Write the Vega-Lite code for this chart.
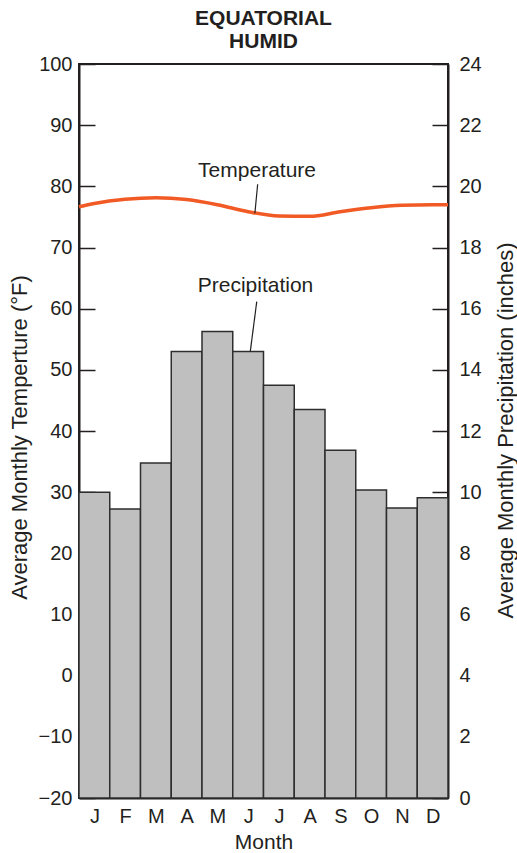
{
  "$schema": "https://vega.github.io/schema/vega-lite/v6.json",
  "width": 369,
  "height": 734,
  "autosize": {"type": "none"},
  "padding": {"left": 79, "top": 64, "right": 69, "bottom": 55},
  "background": "white",
  "title": {
    "text": ["EQUATORIAL", "HUMID"],
    "fontSize": 21,
    "fontWeight": "bold",
    "font": "Liberation Sans",
    "color": "#231f20",
    "anchor": "middle",
    "lineHeight": 23,
    "offset": 2
  },
  "config": {
    "font": "Liberation Sans",
    "view": {"stroke": "#231f20", "strokeWidth": 2},
    "axis": {
      "grid": false,
      "labelFont": "Liberation Sans",
      "labelFontSize": 20,
      "labelColor": "#231f20",
      "titleFont": "Liberation Sans",
      "titleFontSize": 22,
      "titleFontWeight": "normal",
      "titleColor": "#231f20",
      "domainColor": "#231f20",
      "domainWidth": 2,
      "tickColor": "#231f20",
      "tickWidth": 1.5,
      "zindex": 1
    }
  },
  "encoding": {
    "x": {
      "field": "pos",
      "type": "quantitative",
      "scale": {"domain": [0, 12], "nice": false, "zero": false},
      "axis": {
        "title": "Month",
        "titleFontSize": 21,
        "values": [0.5, 1.5, 2.5, 3.5, 4.5, 5.5, 6.5, 7.5, 8.5, 9.5, 10.5, 11.5],
        "labelExpr": "['J','F','M','A','M','J','J','A','S','O','N','D'][floor(datum.value)]",
        "labelFlush": false,
        "ticks": false,
        "labelPadding": 8,
        "titleY": 50,
        "titleBaseline": "alphabetic"
      }
    }
  },
  "layer": [
    {
      "data": {
        "values": [
          {"month": "J", "pos": 0, "end": 1, "precip": 10.0},
          {"month": "F", "pos": 1, "end": 2, "precip": 9.45},
          {"month": "M", "pos": 2, "end": 3, "precip": 10.95},
          {"month": "A", "pos": 3, "end": 4, "precip": 14.6},
          {"month": "M", "pos": 4, "end": 5, "precip": 15.25},
          {"month": "J", "pos": 5, "end": 6, "precip": 14.6},
          {"month": "J", "pos": 6, "end": 7, "precip": 13.5},
          {"month": "A", "pos": 7, "end": 8, "precip": 12.7},
          {"month": "S", "pos": 8, "end": 9, "precip": 11.37},
          {"month": "O", "pos": 9, "end": 10, "precip": 10.07},
          {"month": "N", "pos": 10, "end": 11, "precip": 9.48},
          {"month": "D", "pos": 11, "end": 12, "precip": 9.82}
        ]
      },
      "mark": {"type": "bar", "fill": "#bfbfbf", "stroke": "#2e2e2e", "strokeWidth": 1.5},
      "encoding": {
        "x2": {"field": "end"},
        "y": {
          "field": "precip",
          "type": "quantitative",
          "scale": {"domain": [0, 24], "nice": false, "zero": true},
          "axis": {
            "orient": "right",
            "title": "Average Monthly Precipitation (inches)",
            "values": [0, 2, 4, 6, 8, 10, 12, 14, 16, 18, 20, 22, 24],
            "tickSize": -16,
            "labelPadding": 27,
            "labelFlush": false,
            "titleAngle": -90,
            "titleX": 64,
            "titleY": 366,
            "titleBaseline": "alphabetic",
            "titleAlign": "center"
          }
        },
        "y2": {"datum": 0}
      }
    },
    {
      "encoding": {
        "y": {
          "field": "temp",
          "type": "quantitative",
          "scale": {"domain": [-20, 100], "nice": false, "zero": false},
          "axis": {
            "orient": "left",
            "title": "Average Monthly Temperture (°F)",
            "values": [-20, -10, 0, 10, 20, 30, 40, 50, 60, 70, 80, 90, 100],
            "tickSize": -16,
            "labelPadding": 23,
            "labelFlush": false,
            "titleAngle": -90,
            "titleX": -53,
            "titleY": 373,
            "titleBaseline": "alphabetic",
            "titleAlign": "center"
          }
        }
      },
      "layer": [
        {
          "data": {
            "values": [
              {"pos": 0, "temp": 76.65},
              {"pos": 0.5, "temp": 77.2},
              {"pos": 1.5, "temp": 77.9},
              {"pos": 2.5, "temp": 78.15},
              {"pos": 3.5, "temp": 77.85},
              {"pos": 4.5, "temp": 77.0},
              {"pos": 5.5, "temp": 75.85},
              {"pos": 6.5, "temp": 75.15},
              {"pos": 7.5, "temp": 75.1},
              {"pos": 8.5, "temp": 75.85},
              {"pos": 9.5, "temp": 76.5},
              {"pos": 10.5, "temp": 76.9},
              {"pos": 11.5, "temp": 77.0},
              {"pos": 12, "temp": 77.0}
            ]
          },
          "mark": {"type": "line", "color": "#f15a24", "strokeWidth": 3.5, "interpolate": "monotone"}
        },
        {
          "data": {
            "values": [
              {"label": "Temperature", "pos": 5.81, "pos2": 5.72, "temp": 80.33, "temp2": 75.59},
              {"label": "Precipitation", "pos": 5.78, "pos2": 5.57, "temp": 61.14, "temp2": 52.97}
            ]
          },
          "mark": {"type": "rule", "color": "#231f20", "strokeWidth": 1.2},
          "encoding": {
            "x2": {"field": "pos2"},
            "y2": {"field": "temp2"}
          }
        },
        {
          "data": {
            "values": [
              {"label": "Temperature", "pos": 5.79, "temp": 81.6},
              {"label": "Precipitation", "pos": 5.74, "temp": 62.73}
            ]
          },
          "mark": {"type": "text", "fontSize": 21, "align": "center", "baseline": "alphabetic", "color": "#231f20", "font": "Liberation Sans"},
          "encoding": {
            "text": {"field": "label"}
          }
        }
      ]
    }
  ],
  "resolve": {"scale": {"y": "independent"}}
}
